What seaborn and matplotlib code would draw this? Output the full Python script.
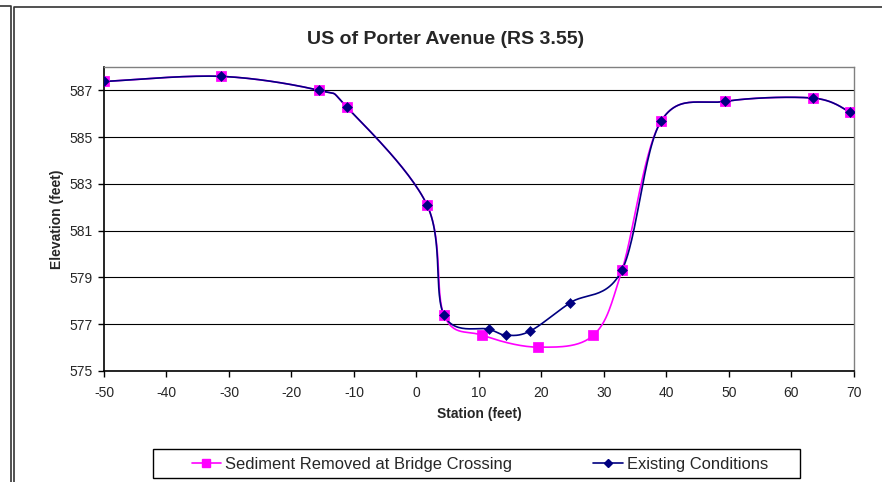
import numpy as np
import pandas as pd
import matplotlib
matplotlib.use("Agg")
import matplotlib.pyplot as plt
from matplotlib.lines import Line2D
from matplotlib.patches import Rectangle
import seaborn as sns

# stations and elevations
existing_station = [-50, -31.3, -15.6, -11.1, 1.7, 4.4, 11.65, 14.4, 18.2, 24.6, 32.9, 39.1, 49.4, 63.5, 69.4]
existing_elev = [587.38, 587.6, 587.0, 586.27, 582.09, 577.39, 576.78, 576.53, 576.71, 577.92, 579.33, 585.67, 586.53, 586.67, 586.07]

sediment_station = [-50, -31.3, -15.6, -11.1, 1.7, 4.4, 10.5, 19.5, 28.3, 32.9, 39.1, 49.4, 63.5, 69.4]
sediment_elev = [587.38, 587.6, 587.0, 586.27, 582.09, 577.39, 576.53, 576.02, 576.53, 579.33, 585.67, 586.53, 586.67, 586.07]

x_ticks = list(range(-50, 71, 10))
y_ticks = list(range(575, 588, 2))


def smooth(xs, ys, n=30):
    # excel style smoothed line (bezier through the points)
    p = np.column_stack([xs, ys]).astype(float)
    p = np.vstack([p[0], p, p[-1]])
    t = np.linspace(0, 1, n)[:, None]
    out = []
    for i in range(1, len(p) - 2):
        p0, p1, p2, p3 = p[i - 1], p[i], p[i + 1], p[i + 2]
        c1 = p1 + (p2 - p0) / 6
        c2 = p2 - (p3 - p1) / 6
        seg = ((1 - t) ** 3) * p1 + 3 * ((1 - t) ** 2) * t * c1 + 3 * (1 - t) * t ** 2 * c2 + t ** 3 * p2
        out.append(seg)
    out = np.vstack(out)
    return pd.DataFrame({"x": out[:, 0], "y": out[:, 1]})


sns.set_style("white")
plt.rcParams["font.family"] = ["Liberation Sans", "DejaVu Sans"]

fig = plt.figure(figsize=(8.82, 4.82), dpi=100)
ax = fig.add_axes([104 / 882, 1 - 371 / 482, 750 / 882, 304 / 482])

sed_color = "#FF00FF"
ex_color = "#000080"

sed_line = smooth(sediment_station, sediment_elev)
ex_line = smooth(existing_station, existing_elev)

sns.lineplot(data=sed_line, x="x", y="y", sort=False, color=sed_color, lw=1.2, ax=ax)
sns.scatterplot(x=sediment_station, y=sediment_elev, marker="s", s=42, color=sed_color,
                edgecolor=sed_color, ax=ax, zorder=3)
sns.lineplot(data=ex_line, x="x", y="y", sort=False, color=ex_color, lw=1.2, ax=ax)
sns.scatterplot(x=existing_station, y=existing_elev, marker="D", s=26, color=ex_color,
                edgecolor=ex_color, ax=ax, zorder=4)

ax.set_xlim(-50, 70)
ax.set_ylim(575, 588)
ax.set_xticks(x_ticks)
ax.set_yticks(y_ticks)
ax.set_xticklabels([str(v) for v in x_ticks], fontsize=10)
ax.set_yticklabels([str(v) for v in y_ticks], fontsize=10)
ax.yaxis.grid(True, color="black", lw=0.8)
ax.xaxis.grid(False)
ax.tick_params(axis="both", direction="out", length=4, width=1, color="black", bottom=True, left=True)
ax.tick_params(axis="x", pad=7)
ax.tick_params(axis="y", pad=4)
for s in ["left", "bottom"]:
    ax.spines[s].set_color("black")
    ax.spines[s].set_linewidth(1.2)
for s in ["top", "right"]:
    ax.spines[s].set_color("#808080")
    ax.spines[s].set_linewidth(1)

ax.set_xlabel("Station (feet)", fontsize=10, fontweight="bold", labelpad=5)
ax.set_ylabel("Elevation (feet)", fontsize=10, fontweight="bold", labelpad=4)
fig.text(446 / 882, 1 - 40 / 482, "US of Porter Avenue (RS 3.55)", ha="center", va="center",
         fontsize=14, fontweight="bold")

handles = [
    Line2D([], [], color=sed_color, marker="s", markersize=6, lw=1.2),
    Line2D([], [], color=ex_color, marker="D", markersize=4.5, lw=1.2),
]
leg = fig.legend(handles, ["Sediment Removed at Bridge Crossing", "Existing Conditions"],
                 loc="center", bbox_to_anchor=(480 / 882, 1 - 464 / 482), ncol=2,
                 fontsize=11.9, frameon=False,
                 columnspacing=4.9, handlelength=1.8, handletextpad=0.25,
                 borderpad=0, borderaxespad=0)
# legend box
fig.add_artist(Rectangle((153 / 882, 1 - 478 / 482), 647 / 882, 29 / 482, transform=fig.transFigure,
                         fill=False, edgecolor="black", lw=1))

# chart area borders
fig.add_artist(Line2D([0, 10.5 / 882, 10.5 / 882], [1 - 6 / 482, 1 - 6 / 482, 0], color="#333333", lw=1.2))
fig.add_artist(Line2D([13.5 / 882, 13.5 / 882, 1], [0, 1 - 7 / 482, 1 - 7 / 482], color="#333333", lw=1.2))

fig.savefig("out.png", dpi=100)
